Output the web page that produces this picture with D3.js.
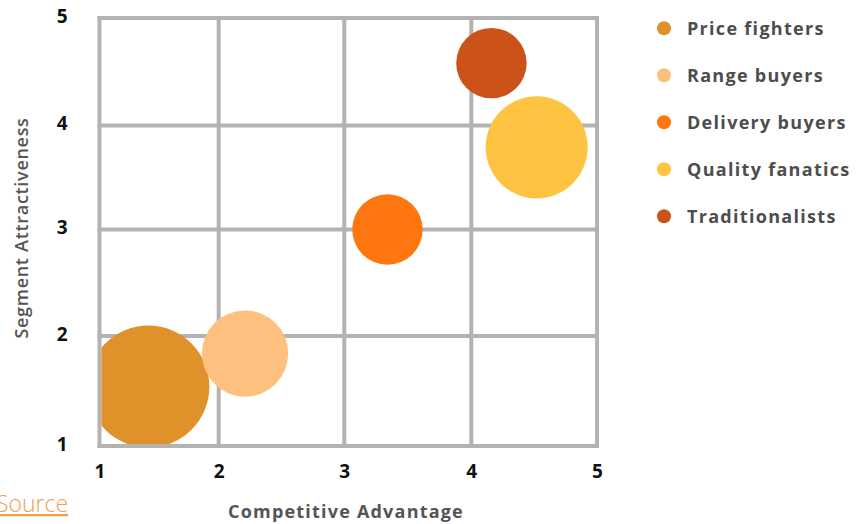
<!DOCTYPE html>
<html>
<head>
<meta charset="utf-8">
<script src="https://cdn.jsdelivr.net/npm/d3@7"></script>
<style>
  html, body { margin: 0; padding: 0; background: #fff; overflow: hidden; }
  svg { display: block; font-family: "Open Sans", sans-serif; }
</style>
</head>
<body>
<svg id="chart" width="856" height="524"></svg>
<script>
const segments = ["Price fighters", "Range buyers", "Delivery buyers", "Quality fanatics", "Traditionalists"];
const competitiveAdvantage = [1.41, 2.21, 3.34, 4.52, 4.16];
const segmentAttractiveness = [1.54, 1.84, 3.0, 3.79, 4.58];
const segmentSize = [30, 15, 10, 21, 10];
const colors = ["#e0922a", "#fdc07e", "#fd7610", "#fec441", "#cb5319"];
const xTicks = [1, 2, 3, 4, 5];
const yTicks = [1, 2, 3, 4, 5];

const svg = d3.select("#chart");

// piecewise-linear scales matching the reference grid positions
const x = d3.scaleLinear().domain(xTicks).range([99.5, 218.7, 344.3, 471.3, 597]);
const y = d3.scaleLinear().domain(yTicks).range([446, 336, 229.5, 125.5, 18]);
const r = d3.scaleSqrt().domain([0, 30]).range([0, 61]);

const pLeft = x(1), pRight = x(5), pTop = y(5), pBottom = y(1);
const gridColor = "#b3b3b3";

// grid
const grid = svg.append("g");
grid.selectAll("line.v").data(xTicks).join("line").attr("class", "v")
  .attr("x1", d => x(d)).attr("x2", d => x(d))
  .attr("y1", pTop - 2).attr("y2", pBottom + 2)
  .attr("stroke", gridColor).attr("stroke-width", 4);
grid.selectAll("line.h").data(yTicks).join("line").attr("class", "h")
  .attr("y1", d => y(d)).attr("y2", d => y(d))
  .attr("x1", pLeft - 2).attr("x2", pRight + 2)
  .attr("stroke", gridColor).attr("stroke-width", 4);

// clip
svg.append("clipPath").attr("id", "plotclip")
  .append("rect").attr("x", pLeft + 2).attr("y", pTop + 2)
  .attr("width", pRight - pLeft - 4).attr("height", pBottom - pTop - 4);

const data = segments.map((s, i) => ({ name: s, x: competitiveAdvantage[i], y: segmentAttractiveness[i], size: segmentSize[i], color: colors[i] }));

svg.append("g").attr("clip-path", "url(#plotclip)")
  .selectAll("circle").data(data).join("circle")
  .attr("cx", d => x(d.x)).attr("cy", d => y(d.y)).attr("r", d => r(d.size))
  .attr("fill", d => d.color);

// axes labels
const xAxis = svg.append("g").attr("transform", `translate(0,${pBottom})`)
  .call(d3.axisBottom(x).tickValues(xTicks).tickSize(0).tickPadding(19).tickFormat(d3.format("d")));
xAxis.select(".domain").remove();
xAxis.selectAll("text").attr("font-family", "Open Sans, sans-serif").attr("font-size", 19).attr("font-weight", 700).attr("fill", "#111");

const yAxis = svg.append("g").attr("transform", `translate(${pLeft},0)`)
  .call(d3.axisLeft(y).tickValues(yTicks).tickSize(0).tickPadding(32).tickFormat(d3.format("d")));
yAxis.select(".domain").remove();
yAxis.selectAll("text").attr("font-family", "Open Sans, sans-serif").attr("font-size", 19).attr("font-weight", 700).attr("fill", "#111").attr("dy", "0.22em");

// titles
svg.append("text").attr("x", 346).attr("y", 518).attr("text-anchor", "middle")
  .attr("font-size", 18).attr("font-weight", 700).attr("fill", "#555").attr("letter-spacing", 1.2)
  .text("Competitive Advantage");
svg.append("text").attr("transform", "translate(28,228) rotate(-90)").attr("text-anchor", "middle")
  .attr("font-size", 18).attr("font-weight", 600).attr("fill", "#555").attr("letter-spacing", 0.7)
  .text("Segment Attractiveness");

// legend
const legend = svg.append("g").selectAll("g").data(data).join("g")
  .attr("transform", (d, i) => `translate(664,${28.3 + i * 47})`);
legend.append("circle").attr("r", 7).attr("fill", d => d.color);
legend.append("text").attr("x", 23).attr("dy", "0.35em")
  .attr("font-size", 18).attr("font-weight", 700).attr("fill", "#4d4d4d").attr("letter-spacing", 1.3)
  .text(d => d.name);

// source link
svg.append("text").attr("x", -4).attr("y", 512)
  .attr("font-size", 23).attr("font-weight", 300).attr("fill", "#f0a050")
  .attr("text-decoration", "underline")
  .text("Source");
</script>
</body>
</html>
